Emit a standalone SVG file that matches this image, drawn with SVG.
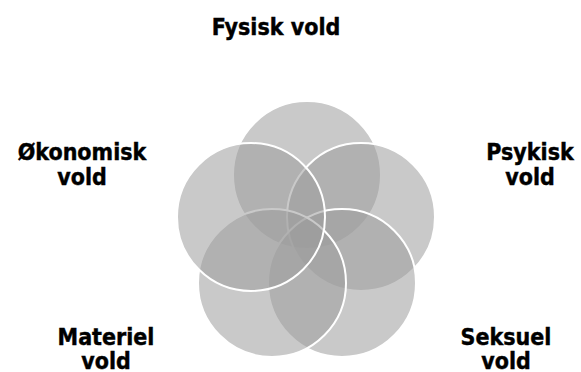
<svg xmlns="http://www.w3.org/2000/svg" width="581" height="372" viewBox="0 0 581 372">
<style>
.c{fill:#9d9d9d;fill-opacity:0.55;stroke:#ffffff;stroke-width:2}
.t{font-family:"DejaVu Sans Condensed","DejaVu Sans",sans-serif;font-weight:bold;font-size:23px;fill:#000;text-anchor:middle;stroke:#000;stroke-width:0.4}
</style>
<rect width="581" height="372" fill="#ffffff"/>
<g id="fysisk"><circle class="c" cx="307" cy="175" r="74"/><text class="t" x="276" y="35">Fysisk vold</text></g>
<g id="psykisk"><circle class="c" cx="361" cy="217" r="74"/><text class="t" x="530" y="160">Psykisk</text><text class="t" x="530" y="185">vold</text></g>
<g id="seksuel"><circle class="c" cx="342" cy="283" r="74"/><text class="t" x="506" y="345">Seksuel</text><text class="t" x="506" y="369">vold</text></g>
<g id="materiel"><circle class="c" cx="272" cy="283" r="74"/><text class="t" x="106" y="345">Materiel</text><text class="t" x="106" y="369">vold</text></g>
<g id="okonomisk"><circle class="c" cx="251" cy="217" r="74"/><text class="t" x="82" y="160">Økonomisk</text><text class="t" x="82" y="185">vold</text></g>
<g id="connectors"/>
</svg>
